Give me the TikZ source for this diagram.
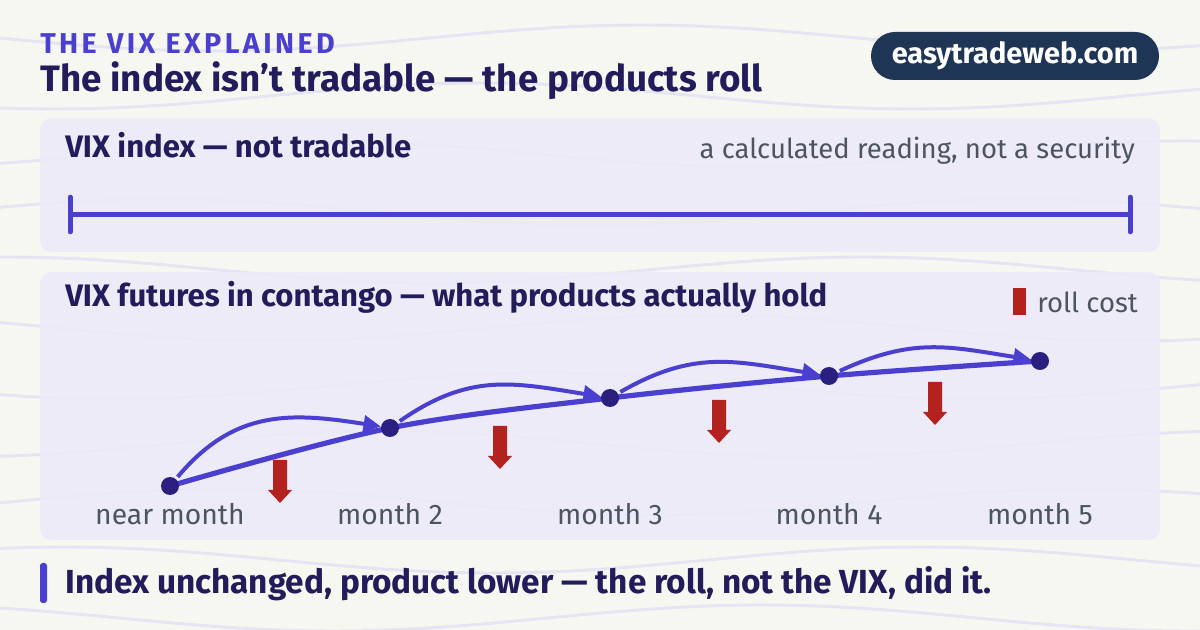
\documentclass[tikz,border=0pt]{standalone}
\usepackage{fontspec}
\setmainfont{Fira Sans}
\usetikzlibrary{arrows.meta}
\definecolor{paper}{HTML}{F7F7F2}
\definecolor{panelfill}{HTML}{EBEAF8}
\definecolor{wavecol}{HTML}{E5E4F2}
\definecolor{indigo}{HTML}{4B3FCF}
\definecolor{navytxt}{HTML}{221C5A}
\definecolor{dotcol}{HTML}{2A1F7F}
\definecolor{badgecol}{HTML}{1E3556}
\definecolor{rollred}{HTML}{B3221E}
\definecolor{graytxt}{HTML}{4D5461}
\pgfdeclarelayer{back}
\pgfdeclarelayer{mid}
\pgfsetlayers{back,mid,main}
\begin{document}
\begin{tikzpicture}[x=0.75pt,y=-0.75pt,
  panel/.style={fill=panelfill,fill opacity=0.88,rounded corners=9pt},
  wave/.style={draw=wavecol,line width=2.2pt},
  dot/.style={circle,fill=dotcol,inner sep=0pt,minimum size=13.5pt},
  trend/.style={draw=indigo,line width=3.9pt,line cap=round},
  roll/.style={draw=indigo,line width=3pt,shorten <=2pt,-{Triangle[length=13pt,width=12.5pt]}},
  head/.style={text=navytxt,font=\bfseries\fontsize{23.3}{27}\selectfont,inner sep=0pt,anchor=base west},
  note/.style={text=graytxt,font=\fontsize{20.6}{24}\selectfont,inner sep=0pt},
  lbl/.style={note,font=\fontsize{21.2}{25}\selectfont,anchor=base}]
\useasboundingbox (0,0) rectangle (1200,630);
\begin{pgfonlayer}{back}
\fill[paper] (0,0) rectangle (1200,630);
\clip (0,0) rectangle (1200,630);
% faint waves behind everything
\foreach \i in {0,...,10} {
  \pgfmathsetmacro{\yo}{38+58*\i}
  \pgfmathsetmacro{\ph}{\i*67}
  \draw[wave] plot[domain=-10:1210,samples=80,smooth] (\x,{\yo+13*sin(0.42*\x+\ph)});
}
\fill[panel] (40,118) rectangle (1160,252);
\fill[panel] (40,272) rectangle (1160,540);
\end{pgfonlayer}

% header
\node[text=indigo,font=\bfseries\fontsize{21.5}{25}\selectfont\addfontfeature{LetterSpace=12},inner sep=0pt,anchor=base west] (kicker) at (40,54) {THE VIX EXPLAINED};
\node[text=navytxt,font=\bfseries\fontsize{27.6}{32}\selectfont,inner sep=0pt,anchor=base west] (title) at (40,92) {The index isn’t tradable — the products roll};
\node[fill=badgecol,text=white,rounded corners=18pt,minimum width=216pt,minimum height=36pt,inner sep=0pt,font=\bfseries\fontsize{21.7}{25}\selectfont] (badge) at (1015,56) {easytradeweb.com};

% panel 1
\node[head] (ixhead) at (65,158) {VIX index — not tradable};
\node[note,anchor=base east] (ixnote) at (1135,159) {a calculated reading, not a security};
\coordinate (ia) at (70,214.5);
\coordinate (ib) at (1130,214.5);
\draw[indigo,line width=3.75pt] (ia) -- (ib);
\draw[indigo,line width=3.75pt,line cap=round] ([yshift=13pt]ia) -- ([yshift=-13pt]ia);
\draw[indigo,line width=3.75pt,line cap=round] ([yshift=13pt]ib) -- ([yshift=-13pt]ib);

% panel 2
\node[head] (futhead) at (65,307) {VIX futures in contango — what products actually hold};
\fill[rollred] (1013,288) rectangle (1026,315);
\node[note,anchor=base west] (legend) at (1037,313) {roll cost};

\foreach \n/\x/\y/\t in {1/170/486/near month,2/390/428/month 2,3/610/398/month 3,4/829/376/month 4,5/1040/361/month 5} {
  \node[dot] (d\n) at (\x,\y) {};
  \node[lbl] (m\n) at (\x,525) {\t};
}

\begin{pgfonlayer}{mid}
\draw[trend] plot[smooth,tension=0.55] coordinates {(d1.center) (d2.center) (d3.center) (d4.center) (d5.center)};
\foreach \a/\b/\o in {1/2/50,2/3/35,3/4/30,4/5/25}
  \draw[roll] (d\a) to[out=\o,in=171,looseness=1.1] (d\b);
\end{pgfonlayer}

% roll cost drops
\foreach \x/\t in {280/460,500/426,719/400,935/382}
  \fill[rollred] ({\x-7},\t) -- ({\x+7},\t) -- ({\x+7},{\t+30}) -- ({\x+12},{\t+30}) -- (\x,{\t+43}) -- ({\x-12},{\t+30}) -- ({\x-7},{\t+30}) -- cycle;

% takeaway
\fill[indigo,rounded corners=2pt] (40,563) rectangle (47,603);
\node[text=navytxt,font=\bfseries\fontsize{25}{29}\selectfont,inner sep=0pt,anchor=base west] (takeaway) at (65,594) {Index unchanged, product lower — the roll, not the VIX, did it.};
\end{tikzpicture}
\end{document}
